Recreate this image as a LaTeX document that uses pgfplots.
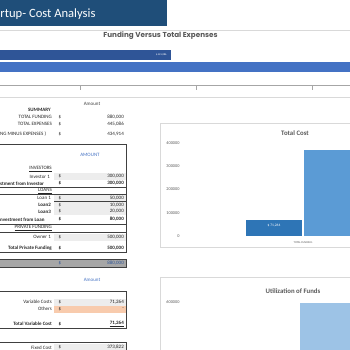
\documentclass[border=0pt]{standalone}
\usepackage{pgfplots}
\pgfplotsset{compat=1.18}
\usepackage{fontspec}
\setmainfont{Carlito}
\newfontfamily\titlefont{Poppins}
\definecolor{banner}{HTML}{1F4E79}
\definecolor{bardark}{HTML}{2F5597}
\definecolor{barlight}{HTML}{4472C4}
\definecolor{tcdark}{HTML}{2E75B6}
\definecolor{tclight}{HTML}{5B9BD5}
\definecolor{utilbar}{HTML}{9DC3E6}
\definecolor{txtgrey}{HTML}{595959}
\definecolor{cellgrey}{HTML}{EDEDED}
\definecolor{orangecell}{HTML}{F8CBAD}
\definecolor{totgrey}{HTML}{A6A6A6}
\definecolor{boxline}{HTML}{404040}
\definecolor{chartline}{HTML}{D9D9D9}
\definecolor{bluetxt}{HTML}{2F5597}
\newcommand\fs{\fontsize{5}{5.5}\selectfont}
\newcommand\lbl[3]{\node[anchor=east,inner sep=0pt,font=\fs,text=black!85] at (#1,-#2) {#3};}
\newcommand\flbl[2]{\node[anchor=west,inner sep=0pt,font=\fs,text=black!85] at (0,-#1) {#2};}
\newcommand\dol[2]{\node[anchor=center,inner sep=0pt,font=\fs,text=black!85] at (60,-#1) {#2};}
\newcommand\num[2]{\node[anchor=east,inner sep=0pt,font=\fs,text=black!85] at (124,-#1) {#2};}
\begin{document}
\begin{tikzpicture}[x=1pt,y=1pt]
\useasboundingbox (0,0) rectangle (350,-350);
\clip (0,0) rectangle (350,-350);
\fill[white] (0,0) rectangle (350,-350);
% banner
\fill[banner] (-10,0) rectangle (167,-26);
\node[anchor=west,inner sep=0pt,text=white,font=\fontsize{12.6}{14}\selectfont] at (0.3,-14) {rtup- Cost Analysis};
% funding chart frame
\draw[chartline,line width=0.6pt] (-5,-30) rectangle (360,-97);
\node[font=\titlefont\fontsize{7.2}{8}\selectfont\bfseries,text=txtgrey] at (160.5,-35.5) {Funding Versus Total Expenses};
\begin{axis}[at={(-35.5pt,-85pt)},anchor=south west,scale only axis,
  width=436.16pt,height=40.5pt,xmin=0,xmax=940000,ymin=-0.44,ymax=2.8,
  axis x line*=bottom, axis y line=none, axis line style={gray!70,line width=0.6pt},
  xtick={250000,500000,750000}, xticklabels={}, scaled x ticks=false,
  tick align=outside, major tick length=5pt,
  tick style={gray!70,line width=0.6pt},
  clip=false]
\addplot[xbar,bar width=11pt,bar shift=0pt,fill=bardark,draw=white,line width=0.4pt,
  nodes near coords={\$ 445,086},
  every node near coord/.append style={anchor=east,xshift=-1pt,text=white,font=\fontsize{2.6}{3}\selectfont}]
  coordinates {(445086,2)};
\addplot[xbar,bar width=11pt,bar shift=0pt,fill=barlight,draw=white,line width=0.4pt]
  coordinates {(880000,1)};
\end{axis}
% summary
\node[font=\fs,text=black!75] at (92,-104) {Amount};
\lbl{51}{110}{\textbf{SUMMARY}}
\lbl{52}{117}{TOTAL FUNDING}\dol{117}{\$}\num{117}{880,000}
\lbl{52}{124}{TOTAL EXPENSES}\dol{124}{\$}\num{124}{445,086}
\flbl{134}{NG MINUS EXPENSES )}\dol{134}{\$}\num{134}{434,914}
% box 1 backgrounds
\fill[cellgrey] (54,-173) rectangle (126,-180);
\fill[cellgrey] (54,-195) rectangle (126,-215);
\fill[cellgrey] (54,-233.5) rectangle (126,-240.5);
\draw[boxline,line width=0.9pt] (-5,-144) -- (126,-144) -- (126,-252) -- (-5,-252);
\draw[boxline,line width=0.9pt] (-5,-187) -- (126,-187);
\draw[boxline,line width=0.9pt] (-5,-194.5) -- (126,-194.5);
\draw[boxline,line width=0.9pt] (54,-201.8) -- (126,-201.8);
\draw[boxline,line width=0.9pt] (-5,-224) -- (126,-224);
\draw[boxline,line width=0.9pt] (-5,-232) -- (126,-232);
\node[font=\fs,text=barlight] at (90,-155) {AMOUNT};
\lbl{52}{169}{\underline{INVESTORS}}
\lbl{50}{176.5}{Investor 1}\dol{176.5}{\$}\num{176.5}{300,000}
\flbl{183.5}{\textbf{stment from Investor}}\dol{183.5}{\textbf{\$}}\num{183.5}{\textbf{300,000}}
\lbl{52}{191.3}{\underline{LOANS}}
\lbl{51}{198.4}{Loan 1}\dol{198.4}{\$}\num{198.4}{50,000}
\lbl{51}{205}{\textbf{Loan2}}\dol{205}{\$}\num{205}{10,000}
\lbl{51}{211.6}{\textbf{Loan3}}\dol{211.6}{\$}\num{211.6}{20,000}
\flbl{219.5}{\textbf{nvestment from Loan}}\dol{219.5}{\textbf{\$}}\num{219.5}{\textbf{80,000}}
\lbl{52}{228}{\underline{PRIVATE FUNDING}}
\lbl{51}{237}{Owner 1}\dol{237}{\$}\num{237}{500,000}
\lbl{52}{248}{\textbf{Total Private Funding}}\dol{248}{\textbf{\$}}\num{248}{\textbf{500,000}}
% total row
\fill[totgrey] (-5,-259.5) rectangle (126,-267.5);
\draw[boxline,line width=0.9pt] (-5,-259.5) -- (126,-259.5) -- (126,-267.5) -- (-5,-267.5);
\node[font=\fs,text=bluetxt,inner sep=0pt] at (60,-263.5) {\$};
\node[font=\fs,text=bluetxt,inner sep=0pt,anchor=east] at (124,-263.5) {880,000};
% box 2
\node[font=\fs,text=barlight] at (92,-279.5) {Amount};
\fill[cellgrey] (54,-298.5) rectangle (126,-305.5);
\fill[orangecell] (54,-305.5) rectangle (126,-312.5);
\draw[boxline,line width=0.9pt] (-5,-291) -- (126,-291) -- (126,-328) -- (-5,-328);
\lbl{52}{302}{Variable Costs}\dol{302}{\$}\num{302}{71,264}
\lbl{52}{309}{Others}\dol{309}{\$}\num{309}{-}
\lbl{52}{324}{\textbf{Total Variable Cost}}\dol{324}{\textbf{\$}}\num{324}{\textbf{\underline{71,264}}}
% box 3
\fill[cellgrey] (54,-344) rectangle (126,-351);
\draw[boxline,line width=0.9pt] (-5,-342.5) -- (126,-342.5) -- (126,-360);
\lbl{52}{347.5}{Fixed Cost}\dol{347.5}{\$}\num{347.5}{373,822}
% Total cost chart
\draw[chartline,line width=0.6pt] (160,-123) rectangle (380,-247);
\node[font=\fontsize{6.8}{7}\selectfont\bfseries,text=txtgrey] at (295,-133) {Total Cost};
\begin{axis}[at={(185pt,-236pt)},anchor=south west,scale only axis,
  width=236pt,height=93pt,xmin=-1,xmax=1,ymin=0,ymax=400000,
  ybar=1pt, bar width=57pt,
  axis line style={draw=none}, tick style={draw=none},
  ytick={0,100000,200000,300000,400000}, scaled y ticks=false,
  yticklabel style={/pgf/number format/fixed,/pgf/number format/1000 sep={},
    /pgf/number format/assume math mode=true,font=\fontsize{4.3}{5}\selectfont,text=txtgrey},
  yticklabel shift=2pt,
  xtick={0}, xticklabels={TOTAL FUNDING},
  xticklabel style={font=\fontsize{2.8}{3}\selectfont,text=txtgrey}, xticklabel shift=-2pt,
  clip=false]
\addplot[fill=tcdark,draw=white,line width=0.4pt,
  nodes near coords={\$ 71,264},
  every node near coord/.append style={anchor=north,yshift=-1.5pt,text=white,font=\fontsize{3.6}{4}\selectfont}]
  coordinates {(0,71264)};
\addplot[fill=tclight,draw=white,line width=0.4pt] coordinates {(0,373822)};
\end{axis}
% Utilization chart
\draw[chartline,line width=0.6pt] (160,-277) rectangle (380,-420);
\node[font=\fontsize{6.8}{7}\selectfont\bfseries,text=txtgrey] at (293,-291) {Utilization of Funds};
\begin{axis}[at={(185pt,-462pt)},anchor=south west,scale only axis,
  width=287pt,height=160pt,xmin=-1,xmax=1,ymin=0,ymax=600000,
  axis line style={draw=none}, tick style={draw=none},
  ytick={600000}, scaled y ticks=false,
  yticklabel style={/pgf/number format/fixed,/pgf/number format/1000 sep={},
    /pgf/number format/assume math mode=true,font=\fontsize{4.3}{5}\selectfont,text=txtgrey},
  yticklabel shift=2pt, xtick=\empty, clip=false]
\addplot[ybar,bar width=57pt,bar shift=0pt,fill=utilbar,draw=none] coordinates {(0,598000)};
\end{axis}
\end{tikzpicture}
\end{document}
